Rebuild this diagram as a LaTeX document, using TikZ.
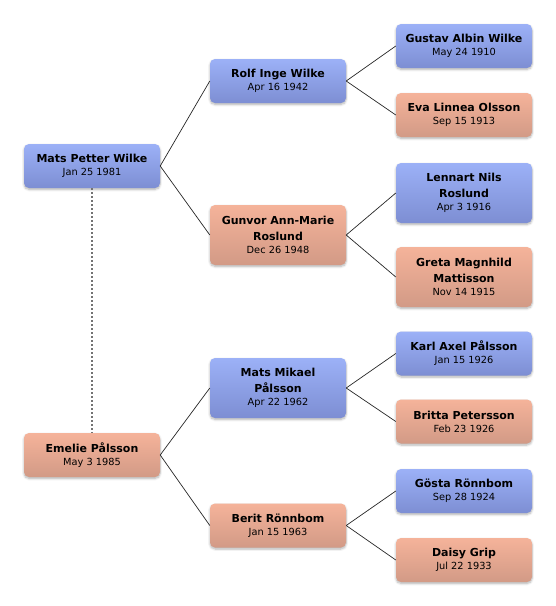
\documentclass[tikz,border=0pt]{standalone}
\usepackage{fontspec}
\setmainfont{DejaVu Sans}
\usetikzlibrary{shadows.blur}
\definecolor{bluetop}{HTML}{9CB1F7}
\definecolor{bluebot}{HTML}{7D8ED3}
\definecolor{pinktop}{HTML}{F5B39A}
\definecolor{pinkbot}{HTML}{D29A86}
\tikzset{
  person/.style={rounded corners=5pt, minimum width=136pt, inner sep=0pt, align=center,
    font=\fontsize{11}{15.5}\selectfont,
    blur shadow={shadow xshift=0pt, shadow yshift=-1.5pt, shadow blur steps=6, shadow blur extra rounding=2pt, shadow opacity=30}},
  oneline/.style={person, minimum height=44pt},
  twoline/.style={person, minimum height=60pt},
  male/.style={top color=bluetop, bottom color=bluebot},
  female/.style={top color=pinktop, bottom color=pinkbot},
  link/.style={draw=black!85, line width=0.7pt},
  spouse/.style={draw=black!55, line width=1.8pt, dash pattern=on 2pt off 2pt}
}
\newcommand{\pname}[1]{{\bfseries #1}}
\newcommand{\pdate}[1]{\\[-2.5pt]{\fontsize{9.8}{13}\selectfont #1}}
\begin{document}
\begin{tikzpicture}[x=1pt,y=-1pt]
\useasboundingbox (0,0) rectangle (556,606);
\node[oneline,male] (mats) at (92,166) {\pname{Mats Petter Wilke}\pdate{Jan 25 1981}};
\node[oneline,female] (emelie) at (92,455) {\pname{Emelie Pålsson}\pdate{May 3 1985}};
\node[oneline,male] (rolf) at (278,81) {\pname{Rolf Inge Wilke}\pdate{Apr 16 1942}};
\node[twoline,female] (gunvor) at (278,235) {\pname{Gunvor Ann-Marie}\\\pname{Roslund}\pdate{Dec 26 1948}};
\node[twoline,male] (mikael) at (278,388) {\pname{Mats Mikael}\\\pname{Pålsson}\pdate{Apr 22 1962}};
\node[oneline,female] (berit) at (278,525.5) {\pname{Berit Rönnbom}\pdate{Jan 15 1963}};
\node[oneline,male] (gustav) at (464,46) {\pname{Gustav Albin Wilke}\pdate{May 24 1910}};
\node[oneline,female] (eva) at (464,115) {\pname{Eva Linnea Olsson}\pdate{Sep 15 1913}};
\node[twoline,male] (lennart) at (464,193) {\pname{Lennart Nils}\\\pname{Roslund}\pdate{Apr 3 1916}};
\node[twoline,female] (greta) at (464,277) {\pname{Greta Magnhild}\\\pname{Mattisson}\pdate{Nov 14 1915}};
\node[oneline,male] (karl) at (464,353.5) {\pname{Karl Axel Pålsson}\pdate{Jan 15 1926}};
\node[oneline,female] (britta) at (464,421.5) {\pname{Britta Petersson}\pdate{Feb 23 1926}};
\node[oneline,male] (gosta) at (464,491) {\pname{Gösta Rönnbom}\pdate{Sep 28 1924}};
\node[oneline,female] (daisy) at (464,560) {\pname{Daisy Grip}\pdate{Jul 22 1933}};
\draw[spouse] (mats.south) -- (emelie.north);
\draw[link] (mats.east) -- (rolf.west);
\draw[link] (mats.east) -- (gunvor.west);
\draw[link] (emelie.east) -- (mikael.west);
\draw[link] (emelie.east) -- (berit.west);
\draw[link] (rolf.east) -- (gustav.west);
\draw[link] (rolf.east) -- (eva.west);
\draw[link] (gunvor.east) -- (lennart.west);
\draw[link] (gunvor.east) -- (greta.west);
\draw[link] (mikael.east) -- (karl.west);
\draw[link] (mikael.east) -- (britta.west);
\draw[link] (berit.east) -- (gosta.west);
\draw[link] (berit.east) -- (daisy.west);
\end{tikzpicture}
\end{document}
